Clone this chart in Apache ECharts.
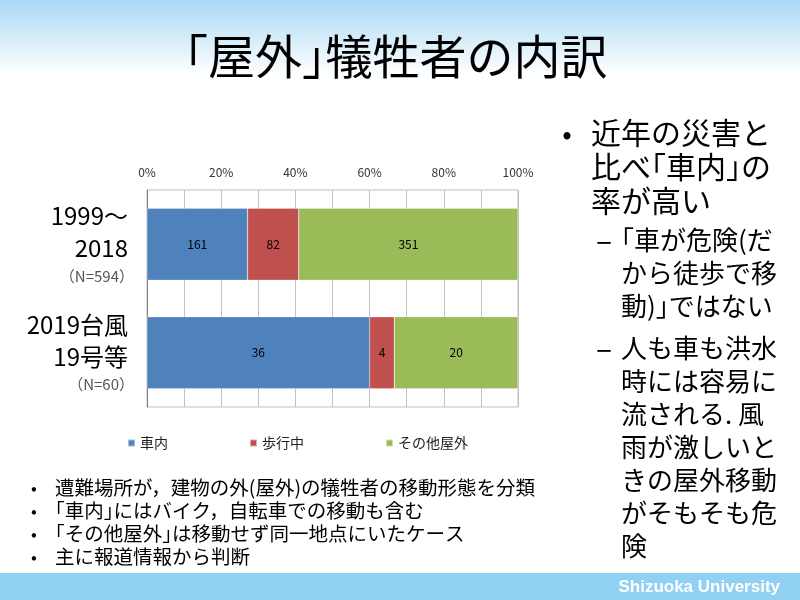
<!DOCTYPE html>
<html><head><meta charset="utf-8">
<script src="https://cdn.jsdelivr.net/npm/echarts@6/dist/echarts.min.js"></script>
<style>html,body{margin:0;padding:0;background:#fff}#c{width:800px;height:600px}</style>
</head><body><div id="c"></div>
<script>
const categories = ['1999～\n2018', '2019台風\n19号等'];
const sampleSizes = ['（N=594）', '（N=60）'];
const seriesNames = ['車内', '歩行中', 'その他屋外'];
const carCounts = [161, 36];
const walkCounts = [82, 4];
const otherCounts = [351, 20];
const totals = [594, 60];
const tickLabels = ['0%', '20%', '40%', '60%', '80%', '100%'];

const titleText = '「屋外」犠牲者の内訳';
const rightMain = ['近年の災害と', '比べ「車内」の', '率が高い'];
const rightSub1 = ['「車が危険(だ', 'から徒歩で移', '動)」ではない'];
const rightSub2 = ['人も車も洪水', '時には容易に', '流される. 風', '雨が激しいと', 'きの屋外移動', 'がそもそも危', '険'];
const bottomNotes = ['遭難場所が，建物の外(屋外)の犠牲者の移動形態を分類', '「車内」にはバイク，自転車での移動も含む', '「その他屋外」は移動せず同一地点にいたケース', '主に報道情報から判断'];
const footerText = 'Shizuoka University';

const FONT = '"Noto Sans CJK JP", "Noto Sans", sans-serif';
const colors = ['#4f81bd', '#c0504d', '#9bbb59'];
const countSets = [carCounts, walkCounts, otherCounts];

const mctx = document.createElement('canvas').getContext('2d');
function measure(s, font) { mctx.font = font; return mctx.measureText(s).width; }

// lays out a line, giving corner brackets a half-width advance (proportional look)
function textLine(str, x, y, font, align) {
  const runs = [];
  let cur = '';
  for (const ch of str) {
    if (ch === '「' || ch === '」') { if (cur) runs.push(cur); runs.push(ch); cur = ''; }
    else cur += ch;
  }
  if (cur) runs.push(cur);
  const widths = runs.map(r => { const w = measure(r, font); return (r === '「' || r === '」') ? w / 2 : w; });
  const total = widths.reduce((a, b) => a + b, 0);
  let cx = align === 'center' ? x - total / 2 : x;
  const children = [];
  runs.forEach((r, i) => {
    const full = measure(r, font);
    const dx = r === '「' ? -full / 2 : 0;
    children.push({type: 'text', style: {text: r, x: cx + dx, y: y, verticalAlign: 'middle', font: font, fill: '#000'}});
    cx += widths[i];
  });
  return {type: 'group', children: children};
}

const chart = echarts.init(document.getElementById('c'), null, {renderer: 'canvas'});

const graphics = [];
graphics.push({type: 'rect', z: -10, shape: {x: 0, y: 0, width: 800, height: 75},
  style: {fill: new echarts.graphic.LinearGradient(0, 0, 0, 1, [{offset: 0, color: '#a9d9f4'}, {offset: 1, color: '#ffffff'}])}});
graphics.push({type: 'rect', z: -10, shape: {x: 0, y: 573, width: 800, height: 27}, style: {fill: '#8fd0f3'}});
graphics.push({type: 'text', style: {text: footerText, x: 780, y: 587, align: 'right', verticalAlign: 'middle',
  font: 'bold 17px "Liberation Sans", Arial, sans-serif', fill: '#ffffff'}});
graphics.push(textLine(titleText, 396, 56, '47px ' + FONT, 'center'));

// right bullets
const mainFont = '30px ' + FONT, subFont = '26px ' + FONT;
graphics.push({type: 'text', style: {text: '•', x: 567, y: 133, align: 'center', verticalAlign: 'middle', font: '28px ' + FONT, fill: '#000'}});
rightMain.forEach((t, i) => graphics.push(textLine(t, 591, 133 + i * 34, mainFont)));
graphics.push({type: 'text', style: {text: '–', x: 604, y: 240, align: 'center', verticalAlign: 'middle', font: '30px ' + FONT, fill: '#000'}});
rightSub1.forEach((t, i) => graphics.push(textLine(t, 621, 240 + i * 33, subFont)));
graphics.push({type: 'text', style: {text: '–', x: 604, y: 348, align: 'center', verticalAlign: 'middle', font: '30px ' + FONT, fill: '#000'}});
rightSub2.forEach((t, i) => graphics.push(textLine(t, 621, 348 + i * 33, subFont)));

// bottom notes
bottomNotes.forEach((t, i) => {
  graphics.push({type: 'text', style: {text: '•', x: 34, y: 488 + i * 23, align: 'center', verticalAlign: 'middle', font: '17px ' + FONT, fill: '#000'}});
  graphics.push(textLine(t, 55, 488 + i * 23, '19.5px ' + FONT));
});

const series = seriesNames.map((name, s) => ({
  name: name, type: 'bar', stack: 'total', barWidth: 72,
  itemStyle: {color: colors[s], borderColor: 'rgba(255,255,255,0.5)', borderWidth: 0.5},
  label: {show: true, position: 'inside', color: '#000', fontSize: 12, fontFamily: FONT,
    formatter: p => String(countSets[s][p.dataIndex])},
  data: countSets[s].map((v, i) => v / totals[i] * 100)
}));

chart.setOption({
  animation: false,
  textStyle: {fontFamily: FONT},
  graphic: graphics,
  grid: {left: 147, right: 282, top: 190, bottom: 193, show: true, borderColor: '#bfbfbf', borderWidth: 1},
  legend: {left: 122, top: 431, itemWidth: 7, itemHeight: 7, itemGap: 81, icon: 'rect',
    textStyle: {fontSize: 14, color: '#222', fontFamily: FONT}, data: seriesNames},
  xAxis: {type: 'value', position: 'top', min: 0, max: 100, interval: 10,
    axisLine: {show: false}, axisTick: {show: false},
    splitLine: {show: true, lineStyle: {color: '#c0c0c0', width: 1}},
    axisLabel: {fontSize: 12, color: '#333', margin: 12, fontFamily: FONT,
      formatter: v => (v % 20 === 0 ? tickLabels[v / 20] : '')}},
  yAxis: {type: 'category', inverse: true, data: categories.map((c, i) => c + '\n' + sampleSizes[i]),
    axisLine: {show: true, lineStyle: {color: '#808080', width: 1}}, axisTick: {show: false},
    axisLabel: {margin: 19, align: 'right',
      formatter: (v, i) => categories[i].split('\n').map(l => '{b|' + l + '}').join('\n') + '\n{s|' + sampleSizes[i] + '}',
      rich: {b: {fontSize: 24, lineHeight: 32, color: '#000', fontFamily: FONT, align: 'right'},
             s: {fontSize: 15, lineHeight: 24, color: '#555', fontFamily: FONT, align: 'right', padding: [0, -6, 0, 0]}}}},
  series: series
});
</script></body></html>
